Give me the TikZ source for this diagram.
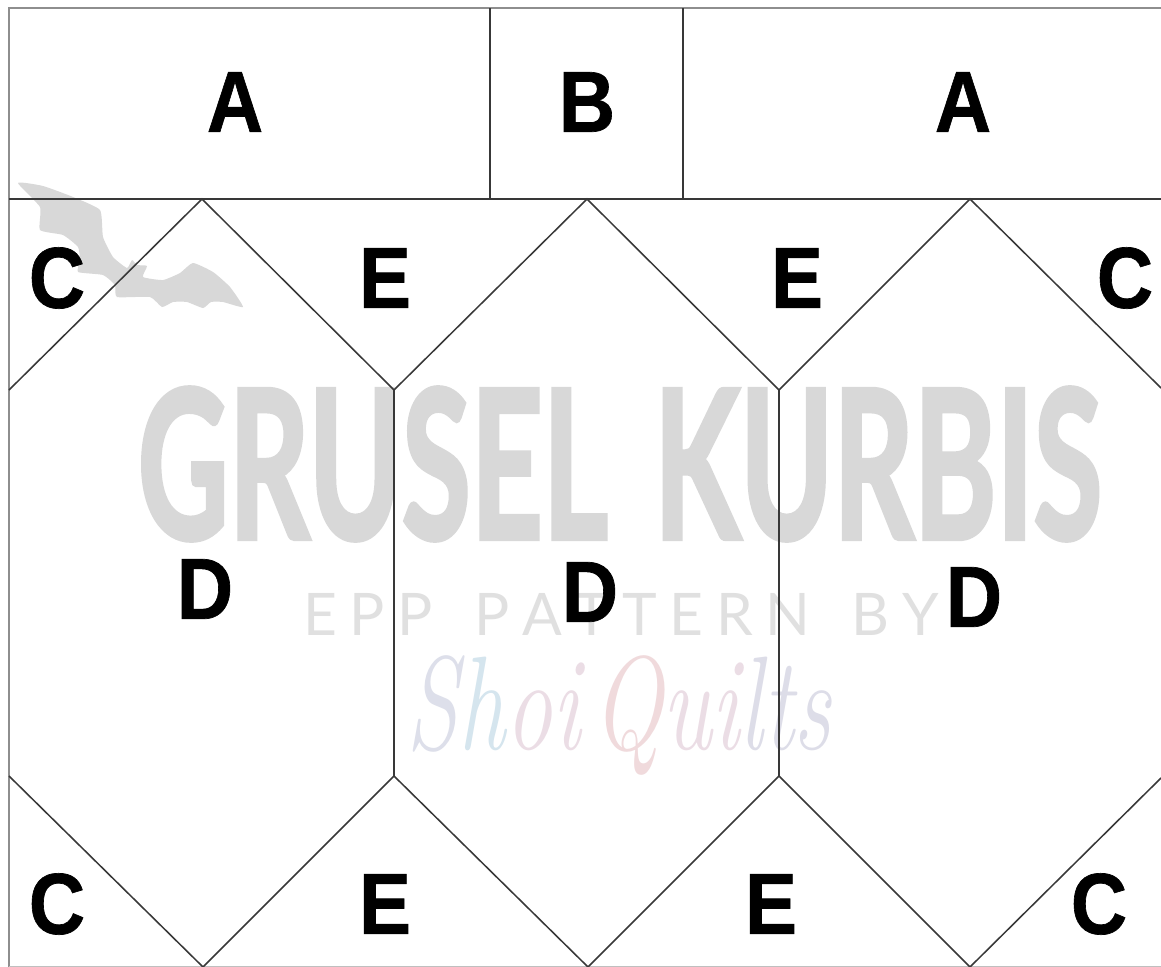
\documentclass[tikz,border=0pt]{standalone}
\usepackage{fontspec}
\newfontfamily\lblfont[BoldFeatures={FakeBold=0.8}]{Liberation Sans}
\newfontfamily\wmfont[FakeBold=2.5]{Lato}
\newfontfamily\epfont{Lato}
\definecolor{wm}{HTML}{D8D8D8}
\definecolor{ep}{HTML}{E0E0E0}
\definecolor{frame}{HTML}{8E8E8E}
\definecolor{sa}{HTML}{DDDFEA}
\definecolor{sb}{HTML}{D5E5EE}
\definecolor{sc}{HTML}{EBDDE5}
\definecolor{sd}{HTML}{F0DADC}
\definecolor{se}{HTML}{DDDDE8}
\newcommand{\lblglyph}[1]{\scalebox{0.9}[1]{\lblfont\fontsize{65}{65}\selectfont\bfseries #1}}
\tikzset{
 seam/.style={draw=black!78,line width=1.15pt,line join=miter},
 edgeline/.style={draw=frame,line width=1.8pt},
 letter/.style={text=black,inner sep=0pt,anchor=center},
}
\begin{document}
\begin{tikzpicture}[x=0.75pt,y=-0.75pt]
\useasboundingbox (0,0) rectangle (1161,967);
\fill[white] (0,0) rectangle (1161,967);
% bat
\fill[wm] plot[smooth cycle,tension=0.3] coordinates {(18,183) (43,186) (73,197) (100,210) (103,237) (113,257) (127,268) (132,260) (137,265) (147,266) (143,277) (163,280) (180,273) (193,263) (213,272) (230,287) (243,307) (223,302) (211,302) (203,308) (187,302) (173,302) (162,307) (150,297) (117,297) (115,285) (103,275) (78,272) (80,260) (78,247) (63,235) (40,230) (40,207)};
% watermark
\node[inner sep=0pt,text=wm] (wm1) at (620,464) {\scalebox{0.595}[0.98]{\wmfont\fontsize{158}{158}\selectfont\bfseries GRUSEL\hspace{20pt} KURBIS}};
\node[inner sep=0pt,text=ep] (wm3) at (621,614) {\epfont\fontsize{44}{44}\selectfont E\hspace{9.5pt}P\hspace{9.5pt}P\hspace{31pt}P\hspace{9.5pt}A\hspace{9.5pt}T\hspace{9.5pt}T\hspace{9.5pt}E\hspace{9.5pt}R\hspace{9.5pt}N\hspace{31pt}B\hspace{9.5pt}Y};
\node[inner sep=0pt] (wm4) at (619,715) {\scalebox{0.88}[1.25]{\rmfamily\itshape\fontsize{80}{80}\selectfont\color{sa}S\color{sb}h\color{sc}o\color{sc}i\hspace{10pt}\color{sd}Q\color{sc}u\color{sc}i\color{se}l\color{se}t\color{se}s}};
% points
\foreach \n/\x/\y in {tl/9/8,tr/1161/8,ml/9/199,mr/1161/199,ab1/490/8,ab2/683/8,ab3/490/199,ab4/683/199,
 z0/9/390,z1/202/199,z2/394/390,z3/587/199,z4/779/390,z5/970/199,z6/1161/388,
 y0/9/776,y1/203/967,y2/394/776,y3/588/967,y4/779/776,y5/970/967,y6/1161/778,bl/9/967,br/1161/967}
 \coordinate (\n) at (\x,\y);
\draw[edgeline] (bl) -- (tl) -- (tr);
\draw[draw=black!25,line width=1pt] (bl) -- (br);
\draw[seam,line width=1.5pt] (ml) -- (mr);
\draw[seam] (ab1) -- (ab3);
\draw[seam] (ab2) -- (ab4);
\draw[seam] (z0) -- (z1) -- (z2) -- (z3) -- (z4) -- (z5) -- (z6);
\draw[seam] (y0) -- (y1) -- (y2) -- (y3) -- (y4) -- (y5) -- (y6);
\draw[seam] (z2) -- (y2);
\draw[seam] (z4) -- (y4);
% labels
\node[letter] (a1) at (235,102) {\lblglyph{A}};
\node[letter] (b) at (587,102) {\lblglyph{B}};
\node[letter] (a2) at (963,102) {\lblglyph{A}};
\node[letter] (c1) at (57,278) {\lblglyph{C}};
\node[letter] (e1) at (385,278) {\lblglyph{E}};
\node[letter] (e2) at (797,278) {\lblglyph{E}};
\node[letter] (c2) at (1125,278) {\lblglyph{C}};
\node[letter] (d1) at (205,589) {\lblglyph{D}};
\node[letter] (d2) at (590,592) {\lblglyph{D}};
\node[letter] (d3) at (974,597) {\lblglyph{D}};
\node[letter] (c3) at (57,904) {\lblglyph{C}};
\node[letter] (e3) at (385,904) {\lblglyph{E}};
\node[letter] (e4) at (771,904) {\lblglyph{E}};
\node[letter] (c4) at (1099,904) {\lblglyph{C}};
\end{tikzpicture}
\end{document}
